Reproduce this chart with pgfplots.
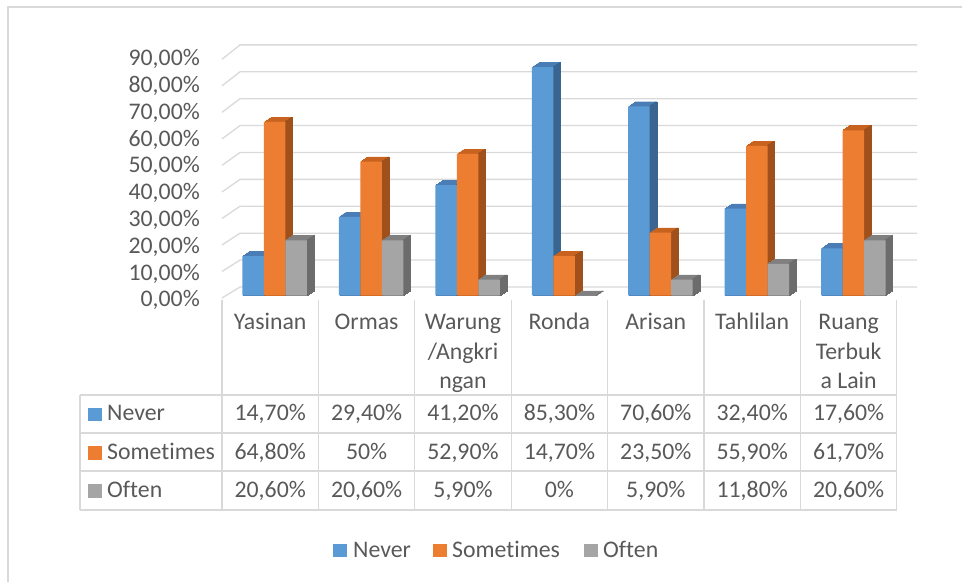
\documentclass[border=0pt]{standalone}
\usepackage{pgfplots}
\pgfplotsset{compat=1.18}
\usepackage{pgfplotstable}
\usepackage{fontspec}
\setmainfont{Carlito}[Ligatures=NoCommon]
\definecolor{cblue}{HTML}{5B9BD5}
\definecolor{cbluet}{HTML}{4A7DB5}
\definecolor{cblued}{HTML}{3B6591}
\definecolor{corange}{HTML}{ED7D31}
\definecolor{coranget}{HTML}{C8631F}
\definecolor{coranged}{HTML}{A0501B}
\definecolor{cgray}{HTML}{A5A5A5}
\definecolor{cgrayt}{HTML}{808080}
\definecolor{cgrayd}{HTML}{6C6C6C}
\definecolor{gridc}{HTML}{D9D9D9}
\definecolor{txt}{HTML}{595959}

\pgfplotstableread{
x v
0 14.7
1 29.4
2 41.2
3 85.3
4 70.6
5 32.4
6 17.6
}\never
\pgfplotstableread{
x v
0 64.8
1 50
2 52.9
3 14.7
4 23.5
5 55.9
6 61.7
}\sometimes
\pgfplotstableread{
x v
0 20.6
1 20.6
2 5.9
3 0
4 5.9
5 11.8
6 20.6
}\often

% #1 front, #2 top, #3 side, #4 bar shift (number, bp), #5 table
\newcommand\threedbars[5]{%
  \pgfplotsinvokeforeach{7,6,5,4,3,2,1}{%
    \addplot[forget plot, fill=#2, draw=#2, line width=0.3bp, bar shift=#4bp,
      xshift=##1*1bp, yshift=##1*0.68bp] table[x=x,y=v]{#5};}
  \pgfplotsinvokeforeach{7,6,5,4,3,2,1}{%
    \addplot[forget plot, fill=#3, draw=#3, line width=0.3bp, bar width=1.2bp, bar shift={(#4+10.15)*1bp},
      xshift=##1*1bp, yshift=##1*0.68bp] table[x=x,y=v]{#5};}
  \addplot[fill=#1, draw=none, bar shift=#4bp] table[x=x,y=v]{#5};}

\newcommand\cell[3]{\node[anchor=base, inner sep=0pt] at ({270.2+96.4*#1},#2) {#3};}

\begin{document}
\begin{tikzpicture}[x=1bp,y=1bp,font=\fontsize{23.8bp}{29.5bp}\selectfont,text=txt]
\useasboundingbox (0,0) rectangle (962,582);
% outer frame
\draw[gridc, line width=1.3bp] (8,-5) -- (8,575) -- (970,575);
% back wall / side wall grid
\foreach \v in {0,10,...,90} {
  \draw[gridc, line width=1.3bp] (222,{284+2.652*\v}) -- (240,{295+2.69*\v}) -- (917,{295+2.69*\v});
}
% table lines
\foreach \k in {0,...,7} {
  \draw[gridc, line width=1.3bp] ({222+96.4*\k},282) -- ({222+96.4*\k},72);
}
\foreach \yy in {187,149,111,72} {
  \draw[gridc, line width=1.3bp] (80,\yy) -- (896.8,\yy);
}
\draw[gridc, line width=1.3bp] (80,187) -- (80,72);

\begin{axis}[
  at={(226.5bp,286.5bp)}, anchor=south west,
  scale only axis, width=675bp, height=241bp,
  xmin=-0.5, xmax=6.5, ymin=0, ymax=90,
  ybar, bar width=21.5bp,
  clip=false,
  axis line style={draw=none},
  major tick length=0pt,
  xtick=\empty,
  ytick={0,10,...,90},
  yticklabels={{0,00\%},{10,00\%},{20,00\%},{30,00\%},{40,00\%},{50,00\%},{60,00\%},{70,00\%},{80,00\%},{90,00\%}},
  yticklabel style={anchor=base east, inner sep=0pt, xshift=-26.5bp, yshift=-11.3bp,
     font=\fontsize{23.8bp}{29.5bp}\selectfont, text=txt},
]
\threedbars{cblue}{cbluet}{cblued}{-21.5}{\never}
\threedbars{corange}{coranget}{coranged}{0}{\sometimes}
\threedbars{cgray}{cgrayt}{cgrayd}{21.5}{\often}
\end{axis}

% header (category names)
\cell{0}{252}{Yasinan}
\cell{1}{252}{Ormas}
\cell{2}{252}{Warung}
\cell{2}{222.5}{/Angkri}
\cell{2}{193}{ngan}
\cell{3}{252}{Ronda}
\cell{4}{252}{Arisan}
\cell{5}{252}{Tahlilan}
\cell{6}{252}{Ruang}
\cell{6}{222.5}{Terbuk}
\cell{6}{193}{a Lain}

% row labels
\fill[cblue] (88,160.5) rectangle (102,174);
\node[anchor=base west, inner sep=0pt] at (107,161) {Never};
\fill[corange] (88,122) rectangle (102,135.5);
\node[anchor=base west, inner sep=0pt] at (107,122.5) {Sometimes};
\fill[cgray] (88,84) rectangle (102,97.5);
\node[anchor=base west, inner sep=0pt] at (107,84.5) {Often};

% values
\cell{0}{161}{14,70\%}\cell{1}{161}{29,40\%}\cell{2}{161}{41,20\%}\cell{3}{161}{85,30\%}\cell{4}{161}{70,60\%}\cell{5}{161}{32,40\%}\cell{6}{161}{17,60\%}
\cell{0}{122.5}{64,80\%}\cell{1}{122.5}{50\%}\cell{2}{122.5}{52,90\%}\cell{3}{122.5}{14,70\%}\cell{4}{122.5}{23,50\%}\cell{5}{122.5}{55,90\%}\cell{6}{122.5}{61,70\%}
\cell{0}{84.5}{20,60\%}\cell{1}{84.5}{20,60\%}\cell{2}{84.5}{5,90\%}\cell{3}{84.5}{0\%}\cell{4}{84.5}{5,90\%}\cell{5}{84.5}{11,80\%}\cell{6}{84.5}{20,60\%}

% legend
\fill[cblue] (333,24.5) rectangle (347,38);
\node[anchor=base west, inner sep=0pt] at (353,24.5) {Never};
\fill[corange] (433,24.5) rectangle (447,38);
\node[anchor=base west, inner sep=0pt] at (452,24.5) {Sometimes};
\fill[cgray] (584,24.5) rectangle (598,38);
\node[anchor=base west, inner sep=0pt] at (603,24.5) {Often};
\end{tikzpicture}
\end{document}
